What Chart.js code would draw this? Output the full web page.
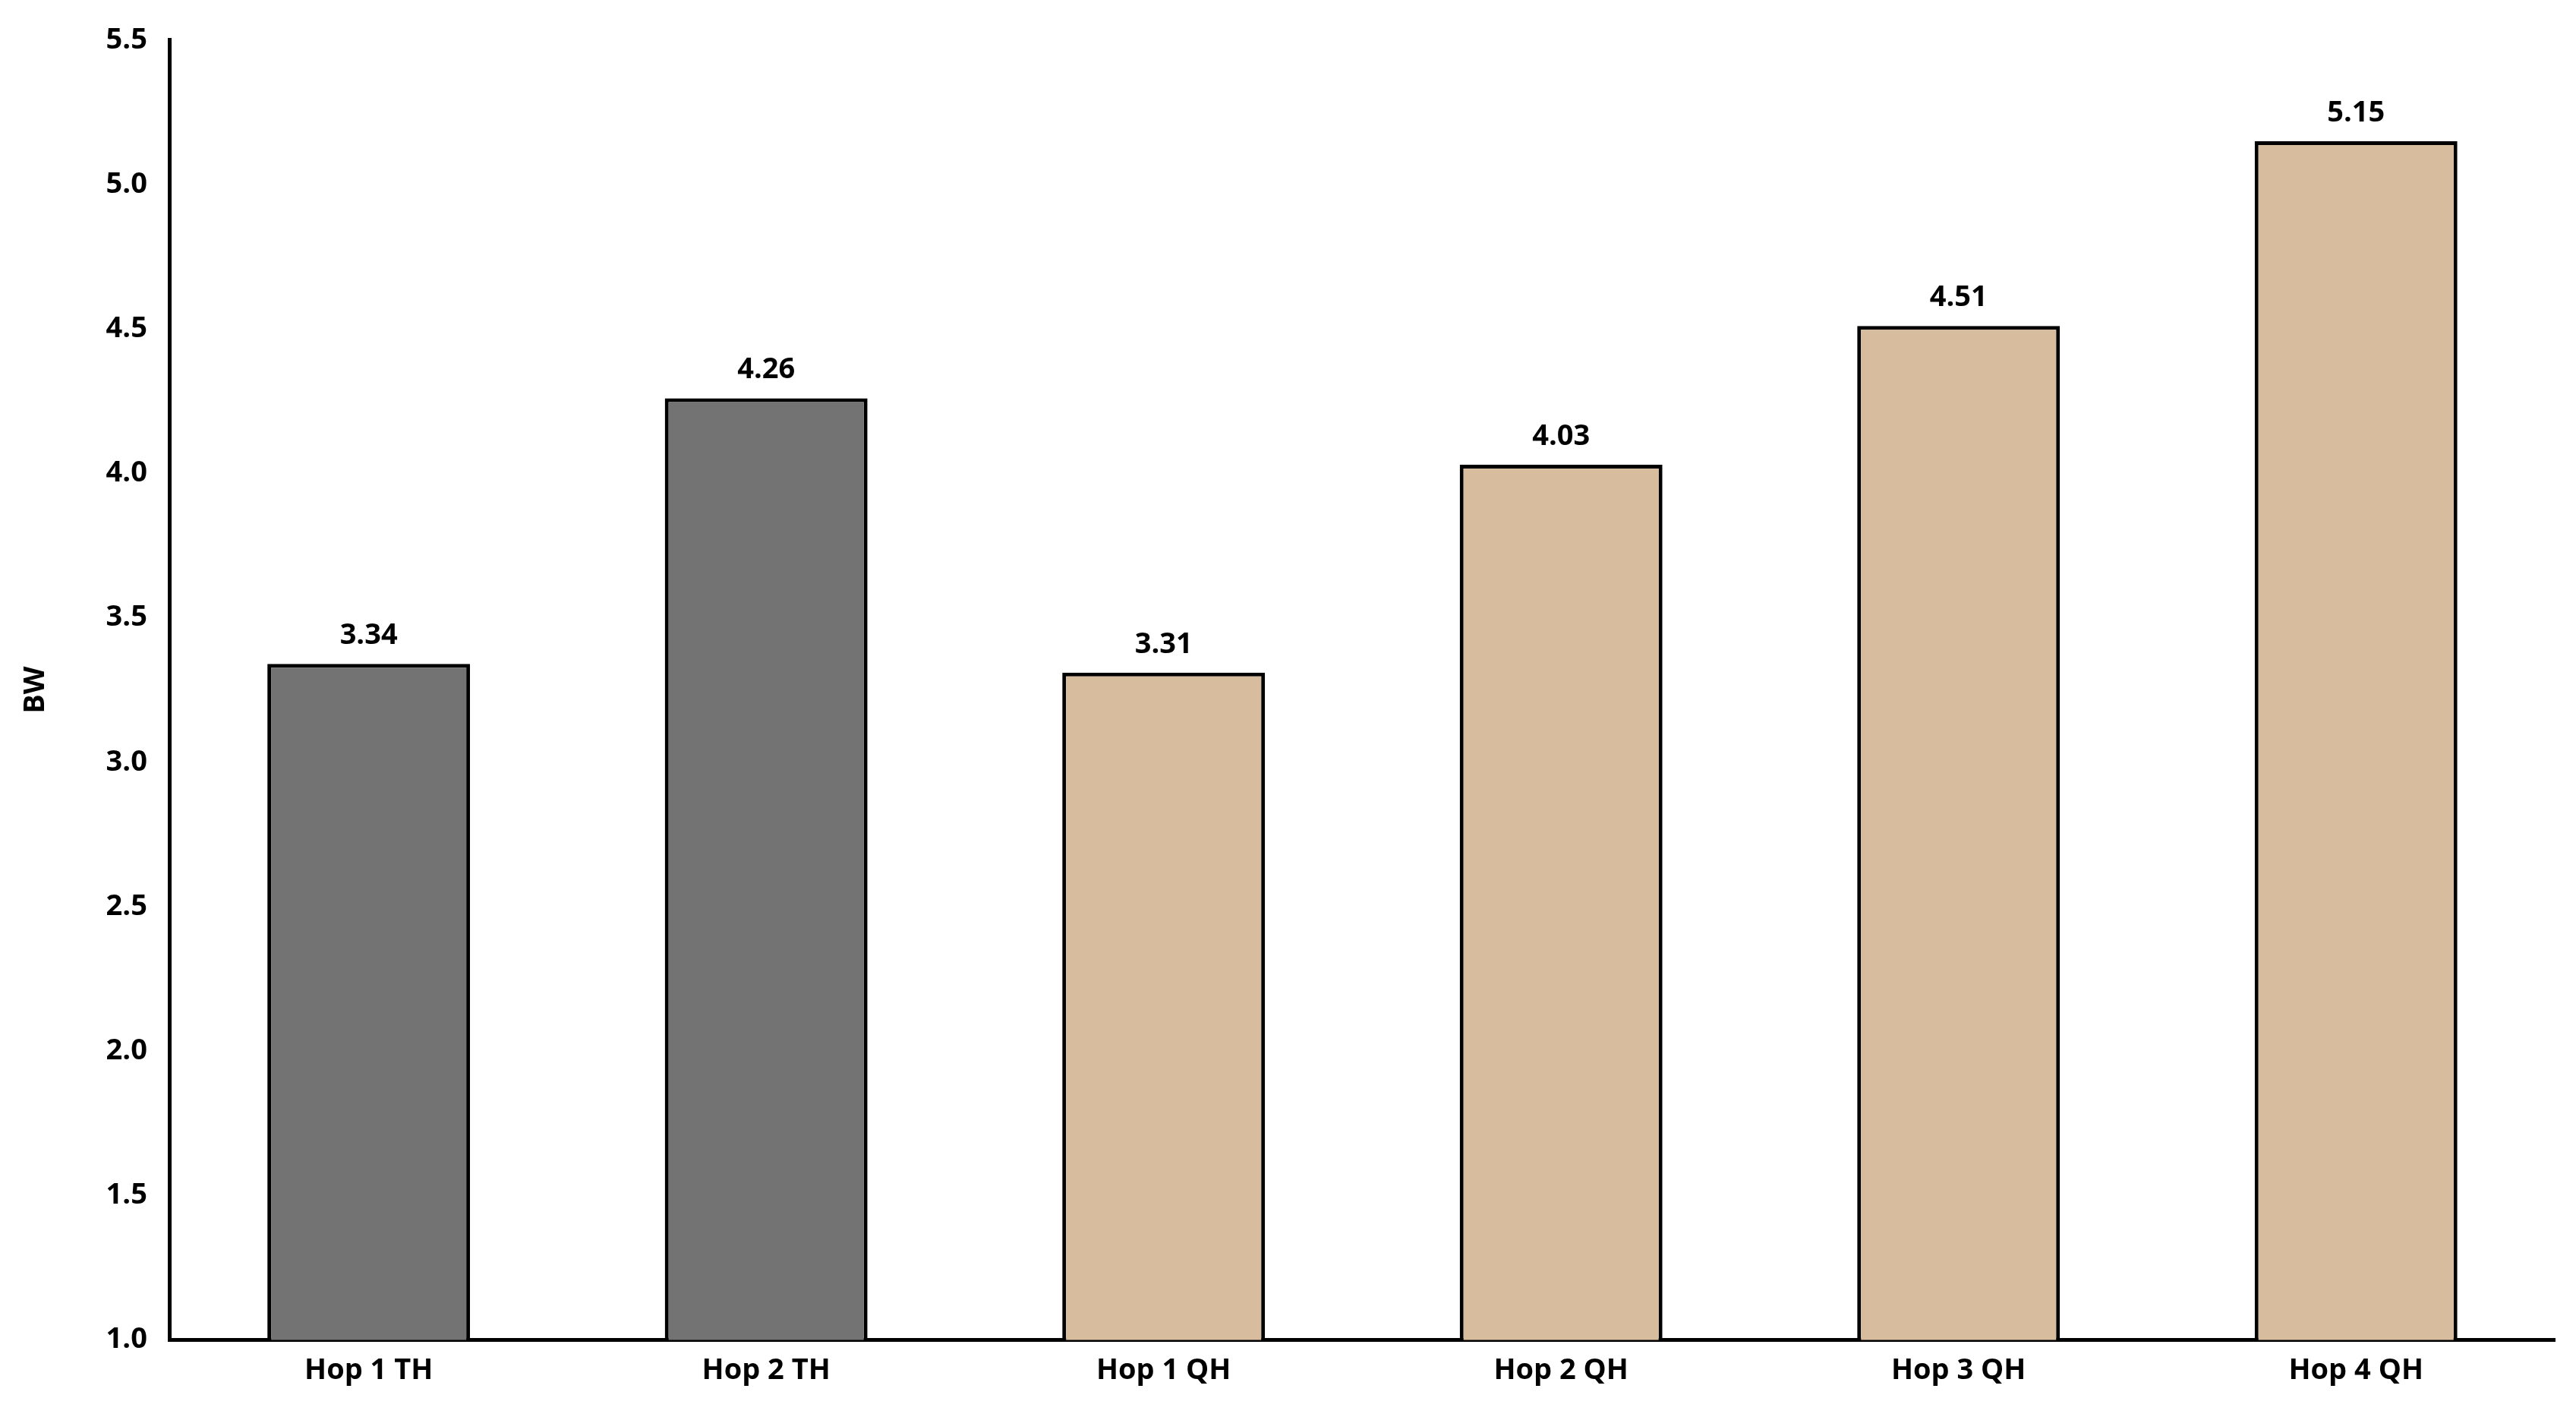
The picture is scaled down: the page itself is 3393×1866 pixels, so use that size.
<!DOCTYPE html>
<html>
<head>
<meta charset="utf-8">
<script src="https://cdn.jsdelivr.net/npm/chart.js@4"></script>
<style>
html, body { margin: 0; padding: 0; background: #fff; }
#wrap { width: 3393px; height: 1866px; }
</style>
</head>
<body>
<div id="wrap"><canvas id="chart"></canvas></div>
<script>
const categories = ['Hop 1 TH', 'Hop 2 TH', 'Hop 1 QH', 'Hop 2 QH', 'Hop 3 QH', 'Hop 4 QH'];
const values = [3.34, 4.26, 3.31, 4.03, 4.51, 5.15];
const barColors = ['#737373', '#737373', '#d7bd9e', '#d7bd9e', '#d7bd9e', '#d7bd9e'];

const font = { family: 'Open Sans, Liberation Sans, sans-serif', weight: 'bold', size: 38 };

// etiquetas de valor acima das barras
const valueLabels = {
	id: 'valueLabels',
	afterDatasetsDraw(chart) {
		const ctx = chart.ctx;
		const meta = chart.getDatasetMeta(0);
		ctx.save();
		ctx.font = `bold 38px ${font.family}`;
		ctx.fillStyle = '#000';
		ctx.textAlign = 'center';
		ctx.textBaseline = 'bottom';
		meta.data.forEach((bar, i) => {
			ctx.fillText(values[i].toFixed(2), bar.x, bar.y - 18);
		});
		ctx.restore();
	}
};

new Chart(document.getElementById('chart'), {
	type: 'bar',
	data: {
		labels: categories,
		datasets: [{
			data: values,
			backgroundColor: barColors,
			borderColor: '#000',
			borderWidth: 5,
			borderSkipped: 'bottom',
			barPercentage: 0.51,
			categoryPercentage: 1
		}]
	},
	options: {
		responsive: true,
		maintainAspectRatio: false,
		animation: false,
		layout: { padding: { top: 42, right: 28, left: 20, bottom: 20 } },
		plugins: { legend: { display: false }, tooltip: { enabled: false } },
		scales: {
			x: {
				grid: { display: false, drawTicks: false },
				border: { color: '#000', width: 5 },
				ticks: { color: '#000', font, padding: 18 }
			},
			y: {
				min: 1, max: 5.5,
				grid: { display: false, drawTicks: false },
				border: { color: '#000', width: 5 },
				ticks: { stepSize: 0.5, color: '#000', font, padding: 30, callback: v => v.toFixed(1) },
				title: { display: true, text: 'BW', color: '#000', font, padding: { bottom: 40 } }
			}
		}
	},
	plugins: [valueLabels]
});
</script>
</body>
</html>
